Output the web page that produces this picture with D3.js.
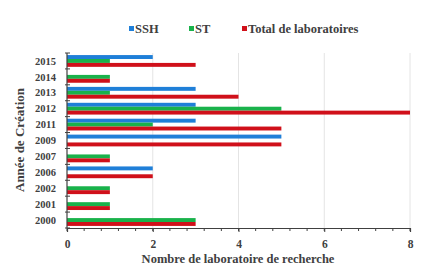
<!DOCTYPE html>
<html>
<head>
<meta charset="utf-8">
<script src="https://cdn.jsdelivr.net/npm/d3@7"></script>
<style>
  body { margin: 0; background: #fff; }
  text { font-family: "Liberation Serif", "DejaVu Serif", serif; font-weight: bold; fill: #404040; }
</style>
</head>
<body>
<div id="main"></div>
<script>
// years, bottom to top in the picture
const years = ["2000", "2001", "2002", "2006", "2007", "2009", "2011", "2012", "2013", "2014", "2015"];
const ssh   = [0, 0, 0, 2, 0, 5, 3, 3, 3, 0, 2];
const st    = [3, 1, 1, 0, 1, 0, 2, 5, 1, 1, 1];
const total = [3, 1, 1, 2, 1, 5, 5, 8, 4, 1, 3];
const seriesNames = ["SSH", "ST", "Total de laboratoires"];
const xTicks = [0, 2, 4, 6, 8];

const colors = ["#1f7fd8", "#19b24b", "#d0101a"];

const ctx = { width: 443, height: 277, left: 67, right: 410, top: 53, bottom: 228 };

const svg = d3.select("#main").append("svg")
  .attr("width", ctx.width)
  .attr("height", ctx.height);

const x = d3.scaleLinear().domain([0, 8]).range([ctx.left, ctx.right]);
const y = d3.scaleBand().domain(years.slice().reverse()).range([ctx.top, ctx.bottom]).paddingInner(0.26).paddingOuter(0.13);
const ySub = d3.scaleBand().domain(seriesNames).range([0, y.bandwidth()]);

// grid lines
svg.append("g").selectAll("line")
  .data(xTicks.filter(d => d > 0))
  .join("line")
  .attr("x1", d => x(d)).attr("x2", d => x(d))
  .attr("y1", ctx.top).attr("y2", ctx.bottom)
  .attr("stroke", "#e4e4e4").attr("stroke-width", 1);

// bars
const data = years.map((yr, i) => ({ year: yr, vals: [ssh[i], st[i], total[i]] }));
const groups = svg.append("g").selectAll("g")
  .data(data)
  .join("g")
  .attr("transform", d => `translate(0,${y(d.year)})`);

groups.selectAll("rect")
  .data(d => d.vals.map((v, k) => ({ v: v, k: k })))
  .join("rect")
  .attr("x", x(0))
  .attr("y", d => ySub(seriesNames[d.k]))
  .attr("width", d => x(d.v) - x(0))
  .attr("height", ySub.bandwidth())
  .attr("fill", d => colors[d.k]);

// y axis with ticks at band boundaries
const step = (ctx.bottom - ctx.top) / years.length;
const yAx = svg.append("g");
yAx.append("line")
  .attr("x1", ctx.left).attr("x2", ctx.left)
  .attr("y1", ctx.top).attr("y2", ctx.bottom)
  .attr("stroke", "#404040").attr("stroke-width", 1.2);
yAx.selectAll("line.tk")
  .data(d3.range(years.length + 1))
  .join("line").attr("class", "tk")
  .attr("x1", ctx.left - 2).attr("x2", ctx.left + 3)
  .attr("y1", i => ctx.top + i * step).attr("y2", i => ctx.top + i * step)
  .attr("stroke", "#404040").attr("stroke-width", 1);
yAx.selectAll("text")
  .data(years)
  .join("text")
  .attr("x", ctx.left - 11)
  .attr("y", d => y(d) + y.bandwidth() / 2)
  .attr("dy", "0.35em")
  .attr("text-anchor", "end")
  .attr("font-size", 10.5)
  .text(d => d);

// x axis
const xAxis = d3.axisBottom(x).tickValues(xTicks).tickSize(4).tickFormat(d3.format("d"));
const xg = svg.append("g").attr("transform", `translate(0,${ctx.bottom})`).call(xAxis);
xg.select(".domain").attr("stroke", "#404040").attr("stroke-width", 1.2);
xg.selectAll(".tick line").attr("stroke", "#404040");
xg.selectAll(".tick text").attr("font-size", 11.5).attr("dy", "1.15em")
  .style("font-family", "Liberation Serif, serif").style("font-weight", "bold").attr("fill", "#404040");
xg.append("g").selectAll("line")
  .data(d3.range(0, 8.01, 0.4))
  .join("line")
  .attr("x1", d => x(d)).attr("x2", d => x(d))
  .attr("y1", 0).attr("y2", 3)
  .attr("stroke", "#404040");

// axis titles
svg.append("text")
  .attr("x", 238)
  .attr("y", 263)
  .attr("text-anchor", "middle")
  .attr("font-size", 12.5)
  .text("Nombre de laboratoire de recherche");

svg.append("text")
  .attr("transform", "translate(24,140) rotate(-90)")
  .attr("text-anchor", "middle")
  .attr("font-size", 13)
  .text("Année de Création");

// legend
const legX = [129, 189, 242];
const leg = svg.append("g").selectAll("g")
  .data(seriesNames)
  .join("g")
  .attr("transform", (d, i) => `translate(${legX[i]},29)`);
leg.append("rect")
  .attr("x", 0).attr("y", -3).attr("width", 5).attr("height", 5)
  .attr("fill", (d, i) => colors[i]);
leg.append("text")
  .attr("x", 6).attr("y", 0).attr("dy", "0.35em")
  .attr("font-size", 12.5)
  .text(d => d);
</script>
</body>
</html>
